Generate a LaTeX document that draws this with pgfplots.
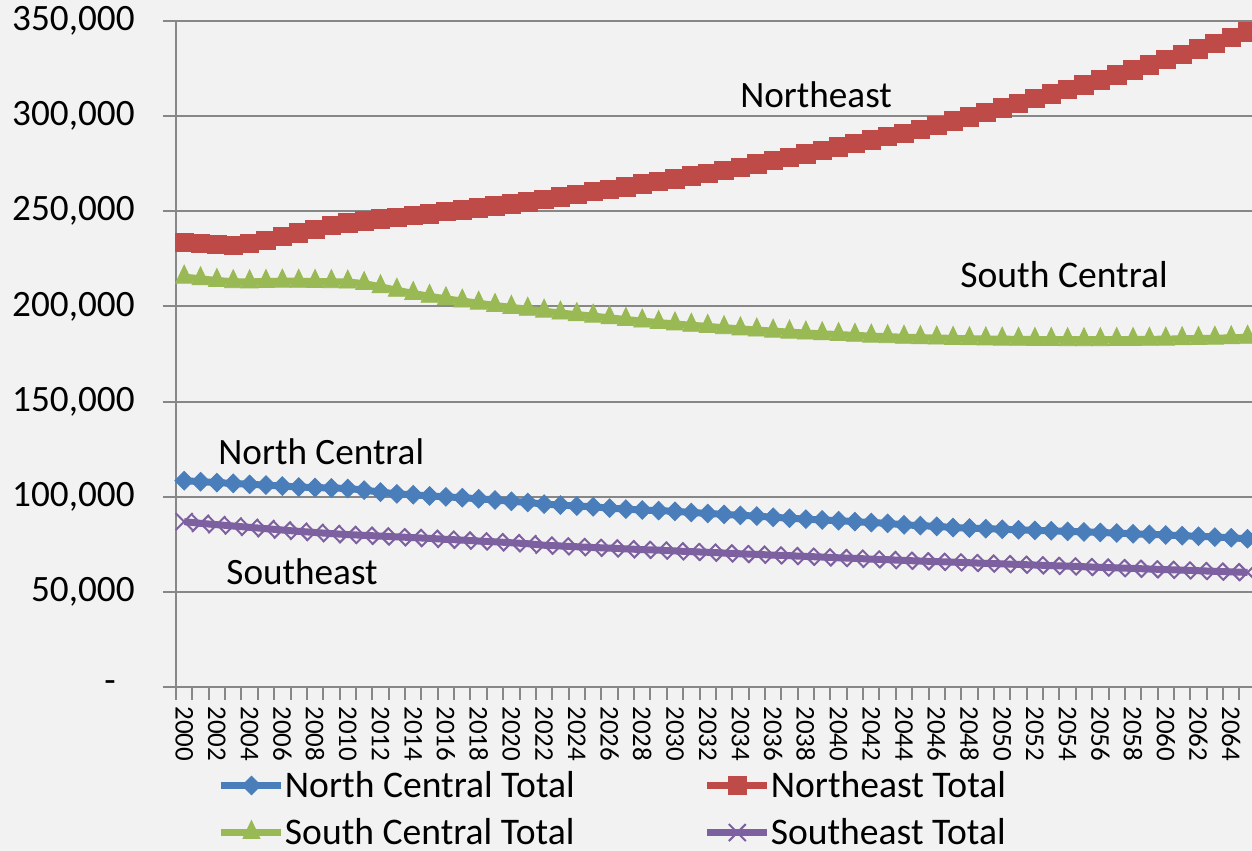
\documentclass[border=0pt]{standalone}
\usepackage{fontspec}
\setmainfont{Carlito}
\usepackage{pgfplots}
\pgfplotsset{compat=1.18}
\usepackage{pgfplotstable}
\usetikzlibrary{backgrounds}
\definecolor{bg}{HTML}{F2F2F2}
\definecolor{gridc}{HTML}{878787}
\definecolor{ncblue}{HTML}{4A7EBB}
\definecolor{nered}{HTML}{BE4B48}
\definecolor{scgreen}{HTML}{98B954}
\definecolor{sepurple}{HTML}{7D60A0}

\pgfplotstableread{
year NC NE SC SE
2000 108400 233700 215400 86900
2001 107900 233200 214500 86000
2002 107400 232600 213600 85300
2003 107000 232200 213000 84600
2004 106500 233000 212900 83900
2005 106100 234600 213100 83200
2006 105600 236900 213300 82500
2007 105100 238700 213200 81800
2008 104800 240600 213100 81200
2009 104600 242500 213000 80600
2010 104300 243800 212800 80100
2011 103500 245000 212000 79700
2012 102400 246100 210300 79300
2013 101500 246900 208500 78900
2014 101000 247700 206800 78500
2015 100400 248700 205300 78100
2016 99900 249800 204000 77600
2017 99500 250800 202800 77200
2018 98900 251800 201700 76700
2019 98300 252900 200500 76300
2020 97600 253900 199500 75800
2021 97000 255000 198500 75300
2022 96100 256100 197500 74500
2023 95600 257500 196500 74100
2024 95100 258900 195700 73700
2025 94700 260300 194900 73300
2026 94000 261500 194000 73000
2027 93500 262900 193100 72600
2028 93000 264300 192300 72200
2029 92700 265600 191500 71900
2030 92300 267100 190800 71500
2031 91700 268600 190100 71100
2032 91200 270000 189500 70800
2033 90700 271600 188800 70400
2034 90200 273200 188200 70000
2035 89800 274900 187600 69700
2036 89200 276600 187000 69300
2037 88700 278300 186500 69000
2038 88200 280100 186000 68600
2039 87800 282000 185600 68300
2040 87400 283900 185200 67900
2041 86900 285700 184800 67600
2042 86400 287500 184400 67200
2043 86000 289200 184100 66900
2044 85200 291000 183800 66500
2045 84800 293000 183600 66200
2046 84400 295200 183400 65900
2047 83800 297400 183200 65600
2048 83500 299700 183000 65300
2049 83200 302000 182900 65000
2050 82900 304400 182800 64700
2051 82600 306800 182700 64400
2052 82300 309200 182600 64100
2053 82100 311600 182600 63800
2054 81800 314000 182500 63500
2055 81500 316500 182500 63200
2056 81200 319000 182500 62900
2057 80900 321600 182600 62600
2058 80500 324200 182600 62300
2059 80200 326900 182700 62000
2060 79900 329700 182800 61700
2061 79500 332500 183000 61400
2062 79200 335400 183100 61100
2063 78800 338300 183300 60800
2064 78400 341300 183500 60500
2065 77900 344300 183800 60200
}\data

\begin{document}
\begin{tikzpicture}
\begin{axis}[
  at={(0,0)}, anchor=south west,
  width=538pt, height=333pt, scale only axis,
  xmin=1999.5, xmax=2065.27, ymin=0, ymax=350000,
  axis lines=left,
  axis line style={-, draw=gridc, line width=1pt},
  tick align=outside,
  major tick length=6.5pt,
  tick style={draw=gridc, line width=1pt},
  ymajorgrids=true,
  grid style={draw=gridc, line width=1pt},
  ytick={0,50000,100000,150000,200000,250000,300000,350000},
  yticklabels={{-\hphantom{0}},{50,000},{100,000},{150,000},{200,000},{250,000},{300,000},{350,000}},
  scaled y ticks=false,
  yticklabel style={font=\fontsize{18.6pt}{22pt}\selectfont, anchor=east, inner sep=0pt},
  yticklabel shift=14pt,
  xtick={1999.5,2000.5,...,2065.5},
  x tick label as interval,
  xticklabels={2000,,2002,,2004,,2006,,2008,,2010,,2012,,2014,,2016,,2018,,2020,,2022,,2024,,2026,,2028,,2030,,2032,,2034,,2036,,2038,,2040,,2042,,2044,,2046,,2048,,2050,,2052,,2054,,2056,,2058,,2060,,2062,,2064,},
  xticklabel style={font=\fontsize{13.5pt}{15pt}\selectfont, rotate=-90, anchor=west, inner sep=0pt},
  xticklabel shift=3pt,
  legend columns=2,
  legend cell align=left,
  legend style={at={(0.039,-0.1200)}, anchor=north west, draw=none, fill=none,
    inner sep=0pt, outer sep=0pt,
    nodes={inner xsep=0pt},
    font=\fontsize{18.8pt}{22pt}\selectfont,
    /tikz/every even column/.append style={column sep=64.5pt},
    row sep=5pt},
  legend image code/.code={\draw[mark repeat=2,mark phase=2] plot coordinates {(0pt,0pt) (15pt,0pt) (30pt,0pt)};},
]
\addplot[color=ncblue, line width=3.5pt, mark=square*, mark size=3.3pt,
  mark options={rotate=45, solid, line width=0.4pt, fill=ncblue, draw=ncblue}]
  table[x=year,y=NC]{\data};
\addlegendentry{North Central Total}
\addplot[color=nered, line width=3.5pt, mark=square*, mark size=4.6pt,
  mark options={solid, line width=0.4pt, fill=nered, draw=nered}]
  table[x=year,y=NE]{\data};
\addlegendentry{Northeast Total}
\addplot[color=scgreen, line width=3.5pt, mark=triangle*, mark size=6pt,
  mark options={xscale=0.82, solid, line width=0.4pt, fill=scgreen, draw=scgreen}]
  table[x=year,y=SC]{\data};
\addlegendentry{South Central Total}
\addplot[color=sepurple, line width=3.5pt, mark=x, mark size=6pt,
  mark options={solid, line width=1pt, draw=sepurple}]
  table[x=year,y=SE]{\data};
\addlegendentry{Southeast Total}

\node[anchor=base west, inner sep=0pt, font=\fontsize{18.6pt}{22pt}\selectfont] at (axis cs:2033.97,304300) {Northeast};
\node[anchor=base west, inner sep=0pt, font=\fontsize{18.8pt}{22pt}\selectfont] at (axis cs:2047.42,210200) {South Central};
\node[anchor=base west, inner sep=0pt, font=\fontsize{18.6pt}{22pt}\selectfont] at (axis cs:2002.07,116700) {North Central};
\node[anchor=base west, inner sep=0pt, font=\fontsize{18.6pt}{22pt}\selectfont] at (axis cs:2002.56,54100) {Southeast};

\coordinate (bbsw) at (rel axis cs:0,0);
\coordinate (bbne) at (rel axis cs:1,1);
\end{axis}
\pgfresetboundingbox
\path[use as bounding box] ([xshift=-88pt,yshift=-82pt]bbsw) rectangle ([yshift=10.5pt]bbne);
\begin{pgfonlayer}{background}
\fill[bg] ([xshift=-88pt,yshift=-82pt]bbsw) rectangle ([yshift=10.5pt]bbne);
\end{pgfonlayer}
\end{tikzpicture}
\end{document}
